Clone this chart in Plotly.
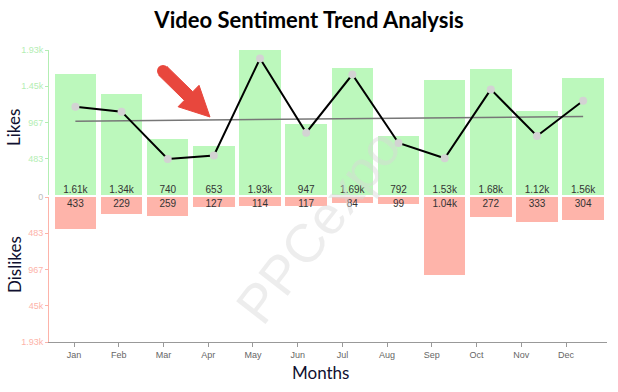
import numpy as np
import plotly.graph_objects as go

months = ["Jan", "Feb", "Mar", "Apr", "May", "Jun", "Jul", "Aug", "Sep", "Oct", "Nov", "Dec"]
likes = [1610, 1340, 740, 653, 1933, 947, 1690, 792, 1530, 1680, 1120, 1560]
dislikes = [433, 229, 259, 127, 114, 117, 84, 99, 1040, 272, 333, 304]
like_ticks = ["483", "967", "1.45k", "1.93k"]
dislike_ticks = ["0", "483", "967", "45k", "1.93k"]

net = [l - d for l, d in zip(likes, dislikes)]
xi = np.arange(len(months))
slope, icpt = np.polyfit(xi, net, 1)
trend = list(slope * xi + icpt)

ymax = max(max(likes), max(dislikes))

def fmt(v):
    return f"{v/1000:.3g}k" if v >= 1000 else str(v)

GREEN = "#bcf8bc"
PINK = "#feb4aa"
GREEN_T = "#b3eeb3"
PINK_T = "#fdb3a9"

W, H = 618, 392
L, R, T, B = 49, 11, 50, 50
PW, PH = W - L - R, H - T - B

def px(xp, yp):
    return (xp - L) / PW, 1 - (yp - T) / PH

fig = go.Figure()
fig.add_bar(x=months, y=likes, marker_color=GREEN, width=0.9, xaxis="x", yaxis="y",
            hoverinfo="skip", marker_line_width=0)
fig.add_bar(x=months, y=dislikes, marker_color=PINK, width=0.9, xaxis="x", yaxis="y2",
            hoverinfo="skip", marker_line_width=0)
fig.add_scatter(x=months, y=[0] * 12, mode="text", text=[fmt(v) for v in likes],
                textposition="top center", textfont=dict(size=10, color="#333", family="Arial"),
                xaxis="x", yaxis="y", hoverinfo="skip", cliponaxis=False)
fig.add_scatter(x=months, y=[30] * 12, mode="text", text=[fmt(v) for v in dislikes],
                textposition="bottom center", textfont=dict(size=10, color="#333", family="Arial"),
                xaxis="x", yaxis="y2", hoverinfo="skip", cliponaxis=False)
fig.add_scatter(x=months, y=trend, mode="lines", line=dict(color="#777", width=1.5),
                xaxis="x", yaxis="y", hoverinfo="skip")
fig.add_scatter(x=months, y=net, mode="lines+markers", line=dict(color="black", width=2),
                marker=dict(color="#d3d3d3", size=8), xaxis="x", yaxis="y", hoverinfo="skip",
                cliponaxis=False)
fig.add_scatter(x=months, y=[0] * 12, mode="markers", marker=dict(opacity=0),
                xaxis="x2", yaxis="y2", hoverinfo="skip")

g = 1.0 / PH
fig.update_layout(
    width=W, height=H, margin=dict(l=L, r=R, t=T, b=B),
    paper_bgcolor="white", plot_bgcolor="white", showlegend=False, bargap=0,
    title=dict(text="<b>Video Sentiment Trend Analysis</b>", x=0.5, xanchor="center",
               y=1 - 20 / H, yanchor="middle", yref="container",
               font=dict(family="Lato", size=22, color="black")),
    xaxis=dict(range=[-0.572, 11.517], visible=False, anchor="y2", fixedrange=True),
    xaxis2=dict(range=[-0.559, 11.916], overlaying="x", anchor="y2", side="bottom",
                showline=True, linecolor="#999", linewidth=1, ticks="outside", ticklen=4,
                tickcolor="#999", tickfont=dict(size=9, color="#666", family="Arial"),
                showgrid=False, zeroline=False, categoryorder="array", categoryarray=months),
    yaxis=dict(domain=[0.5 + g, 1], range=[0, ymax], showgrid=False, zeroline=False,
               showline=True, linecolor=GREEN_T, linewidth=1, ticks="outside", ticklen=3,
               tickcolor=GREEN_T, tickvals=[ymax * i / 4 for i in range(1, 5)],
               ticktext=like_ticks, tickfont=dict(size=9, color=GREEN_T, family="Arial"),
               anchor="x"),
    yaxis2=dict(domain=[0, 0.5 - g], range=[ymax, 0], showgrid=False, zeroline=False,
                showline=True, linecolor=PINK_T, linewidth=1, ticks="outside", ticklen=3,
                tickcolor=PINK_T, tickvals=[ymax * i / 4 for i in range(0, 5)],
                ticktext=['<span style="color:#bbb">0</span>'] + dislike_ticks[1:],
                tickfont=dict(size=9, color=PINK_T, family="Arial"), anchor="x"),
)

ax_font = dict(family="Lato", size=17, color="#101030")
lx, ly = px(14, 128)
fig.add_annotation(text="Likes", x=lx, y=ly, xref="paper", yref="paper", textangle=-90,
                   showarrow=False, font=ax_font, xanchor="center", yanchor="middle")
lx, ly = px(14, 265)
fig.add_annotation(text="Dislikes", x=lx, y=ly, xref="paper", yref="paper", textangle=-90,
                   showarrow=False, font=ax_font, xanchor="center", yanchor="middle")
lx, ly = px(320, 372)
fig.add_annotation(text="Months", x=lx, y=ly, xref="paper", yref="paper",
                   showarrow=False, font=ax_font, xanchor="center", yanchor="middle")

wx, wy = px(318, 226)
fig.add_annotation(text="PPCexpo", x=wx, y=wy, xref="paper", yref="paper", textangle=-52,
                   showarrow=False, font=dict(family="Arial", size=54, color="rgba(215,215,215,0.45)"),
                   xanchor="center", yanchor="middle")

# red arrow decoration
tail = np.array([163.0, 71.0])
tip = np.array([210.0, 117.0])
u = (tip - tail) / np.linalg.norm(tip - tail)
n = np.array([-u[1], u[0]])
hb = tip - u * 30
pts = [tail + n * 6, hb + n * 6, hb + n * 15, tip, hb - n * 15, hb - n * 6, tail - n * 6]
path = "M " + " L ".join("%.4f,%.4f" % px(*p) for p in pts) + " Z"
fig.add_shape(type="path", path=path, xref="paper", yref="paper",
              fillcolor="#e8473d", line=dict(color="#e8473d", width=1), layer="above")
cx, cy = px(*tail)
rx, ry = 6 / PW, 6 / PH
fig.add_shape(type="circle", xref="paper", yref="paper", x0=cx - rx, x1=cx + rx, y0=cy - ry, y1=cy + ry,
              fillcolor="#e8473d", line=dict(color="#e8473d", width=0), layer="above")

fig.write_html("out.html", config={"displayModeBar": False},
               post_script="document.body.style.margin='0';document.body.style.overflow='hidden';")
